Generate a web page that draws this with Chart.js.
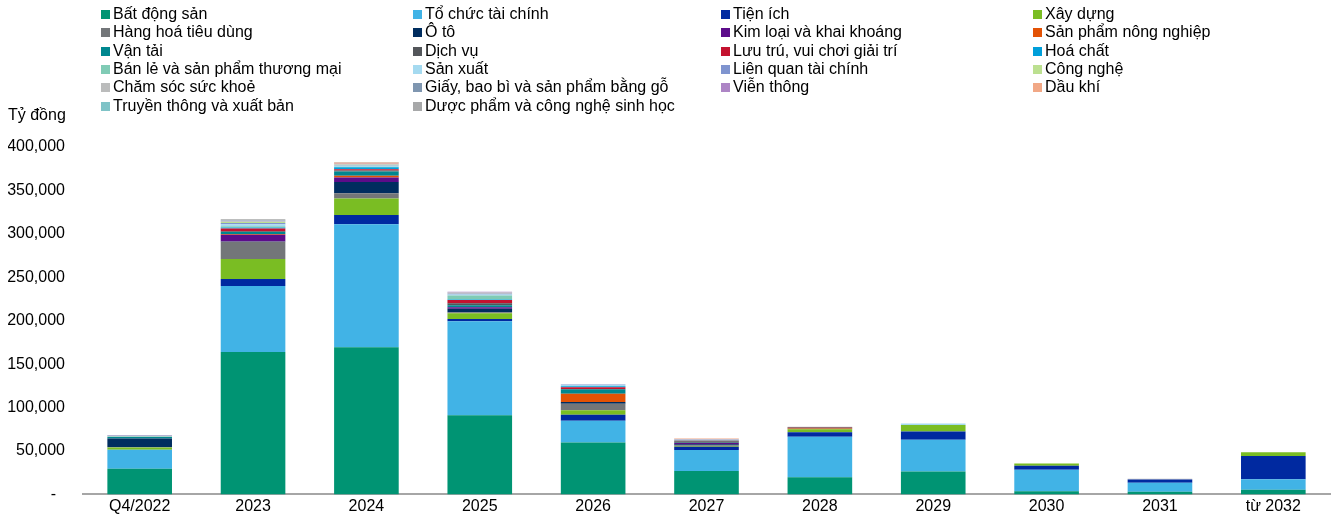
<!DOCTYPE html>
<html>
<head>
<meta charset="utf-8">
<script src="https://cdn.jsdelivr.net/npm/chart.js@4.4.1/dist/chart.umd.min.js"></script>
<style>
  body { margin: 0; background: #fff; font-family: "Liberation Sans", Arial, sans-serif; overflow: hidden; }
  #wrap { position: relative; width: 1338px; height: 515px; overflow: hidden; }
  #priceChart { position: absolute; left: 0; top: 0; }
  .item { position: absolute; font-size: 16px; line-height: 18px; color: #000; white-space: nowrap; padding-left: 12px; }
  .item .box { position: absolute; left: 0; top: 5px; width: 9px; height: 9px; }
  #unit { position: absolute; left: 8px; top: 106px; font-size: 16px; color: #000; }
</style>
</head>
<body>
<div id="wrap">
  <canvas id="priceChart" width="1338" height="522"></canvas>
  <div id="legend"></div>
  <div id="unit">Tỷ đồng</div>
</div>
<script>
var categories = ['Q4/2022', '2023', '2024', '2025', '2026', '2027', '2028', '2029', '2030', '2031', 'từ 2032'];

// gia tri theo nganh, ty dong
var batDongSan     = [29500, 164000, 169500, 91000, 59800, 27000, 19800, 26300, 3500, 3000, 5300];
var toChucTaiChinh = [22000, 76000, 141500, 108500, 25100, 24000, 46500, 36600, 25000, 10300, 12200];
var tienIch        = [0, 8000, 10600, 2600, 6900, 3800, 5300, 9500, 4400, 3800, 26700];
var xayDung        = [2500, 23000, 19000, 6500, 5000, 800, 3400, 7600, 2600, 0, 4200];
var hangHoa        = [500, 19800, 6100, 1100, 7600, 1000, 0, 0, 0, 0, 0];
var oTo            = [10000, 500, 13000, 4200, 1900, 1000, 0, 0, 0, 0, 0];
var kimLoai        = [0, 7600, 5300, 1500, 0, 1500, 0, 0, 0, 0, 0];
var nongNghiep     = [0, 1000, 1900, 0, 9500, 0, 1000, 0, 0, 0, 0];
var vanTai         = [1500, 2300, 4900, 2300, 5300, 500, 0, 0, 0, 0, 0];
var dichVu         = [0, 800, 1000, 2300, 0, 1500, 1000, 0, 0, 0, 0];
var luuTru         = [0, 3200, 1500, 3800, 2300, 800, 500, 0, 0, 0, 0];
var hoaChat        = [0, 1000, 2300, 700, 1000, 300, 0, 0, 0, 0, 0];
var banLe          = [800, 1500, 600, 4500, 400, 300, 0, 0, 0, 0, 0];
var sanXuat        = [0, 2300, 1200, 1100, 1200, 0, 0, 1500, 0, 0, 0];
var lienQuanTC     = [0, 1500, 700, 1000, 500, 500, 0, 0, 0, 0, 0];
var congNghe       = [0, 1200, 500, 0, 0, 0, 0, 0, 0, 0, 0];
var chamSoc        = [500, 800, 500, 1500, 0, 600, 500, 0, 0, 900, 0];
var giay           = [0, 500, 300, 0, 0, 0, 0, 0, 0, 0, 0];
var vienThong      = [400, 300, 300, 700, 0, 300, 0, 0, 0, 0, 0];
var dauKhi         = [0, 200, 1500, 0, 0, 400, 0, 0, 0, 0, 0];
var truyenThong    = [600, 300, 300, 0, 0, 0, 0, 0, 0, 0, 0];
var duocPham       = [0, 1100, 200, 0, 0, 0, 0, 0, 0, 0, 0];

var yTicks = [0, 50000, 100000, 150000, 200000, 250000, 300000, 350000, 400000];

var series = [
  ['Bất động sản', batDongSan, '#009473'],
  ['Tổ chức tài chính', toChucTaiChinh, '#41b3e6'],
  ['Tiện ích', tienIch, '#0029a0'],
  ['Xây dựng', xayDung, '#7abd23'],
  ['Hàng hoá tiêu dùng', hangHoa, '#737679'],
  ['Ô tô', oTo, '#002d5f'],
  ['Kim loại và khai khoáng', kimLoai, '#5c0c8a'],
  ['Sản phẩm nông nghiệp', nongNghiep, '#e35205'],
  ['Vận tải', vanTai, '#00878f'],
  ['Dịch vụ', dichVu, '#53565a'],
  ['Lưu trú, vui chơi giải trí', luuTru, '#c4122f'],
  ['Hoá chất', hoaChat, '#009fda'],
  ['Bán lẻ và sản phẩm thương mại', banLe, '#80cbb5'],
  ['Sản xuất', sanXuat, '#a5daf0'],
  ['Liên quan tài chính', lienQuanTC, '#7f94cf'],
  ['Công nghệ', congNghe, '#bce090'],
  ['Chăm sóc sức khoẻ', chamSoc, '#bbbcbc'],
  ['Giấy, bao bì và sản phẩm bằng gỗ', giay, '#7f96b0'],
  ['Viễn thông', vienThong, '#ad85c5'],
  ['Dầu khí', dauKhi, '#f1a886'],
  ['Truyền thông và xuất bản', truyenThong, '#7fc3c7'],
  ['Dược phẩm và công nghệ sinh học', duocPham, '#a7a8a9']
];

var fontFam = '"Liberation Sans", Arial, sans-serif';

// legend in 4 cot, viet bang html
var legendCols = [101, 413, 721, 1033];
var legendBox = document.getElementById('legend');
series.forEach(function (s, i) {
  var d = document.createElement('div');
  d.className = 'item';
  d.style.left = legendCols[i % 4] + 'px';
  d.style.top = (5 + Math.floor(i / 4) * 18.3) + 'px';
  d.innerHTML = '<span class="box" style="background:' + s[2] + '"></span>' + s[0];
  legendBox.appendChild(d);
});

const ctx = document.getElementById('priceChart').getContext('2d');
new Chart(ctx, {
  type: 'bar',
  data: {
    labels: categories,
    datasets: series.map(function (s) {
      return {
        label: s[0],
        data: s[1],
        backgroundColor: s[2],
        borderWidth: 0,
        barPercentage: 0.57,
        categoryPercentage: 1
      };
    })
  },
  options: {
    responsive: false,
    animation: false,
    layout: { padding: { top: 147, left: 8, right: 8, bottom: 0 } },
    plugins: { legend: { display: false }, tooltip: { enabled: false } },
    scales: {
      x: {
        stacked: true,
        grid: { display: false, drawTicks: false },
        border: { color: '#a6a6a6', width: 2 },
        ticks: { color: '#000', font: { size: 16, family: fontFam }, padding: 3 },
        afterFit: function (axis) { axis.height = 21; }
      },
      y: {
        stacked: true,
        min: 0,
        max: 400000,
        afterBuildTicks: function (axis) {
          axis.ticks = yTicks.map(function (v) { return { value: v }; });
        },
        afterFit: function (axis) { axis.width = 75; },
        grid: { display: false, drawTicks: false },
        border: { display: false },
        ticks: {
          color: '#000',
          font: { size: 16, family: fontFam },
          padding: 18,
          callback: function (v) { return v === 0 ? '-  ' : v.toLocaleString('en-US'); }
        }
      }
    }
  }
});
</script>
</body>
</html>
